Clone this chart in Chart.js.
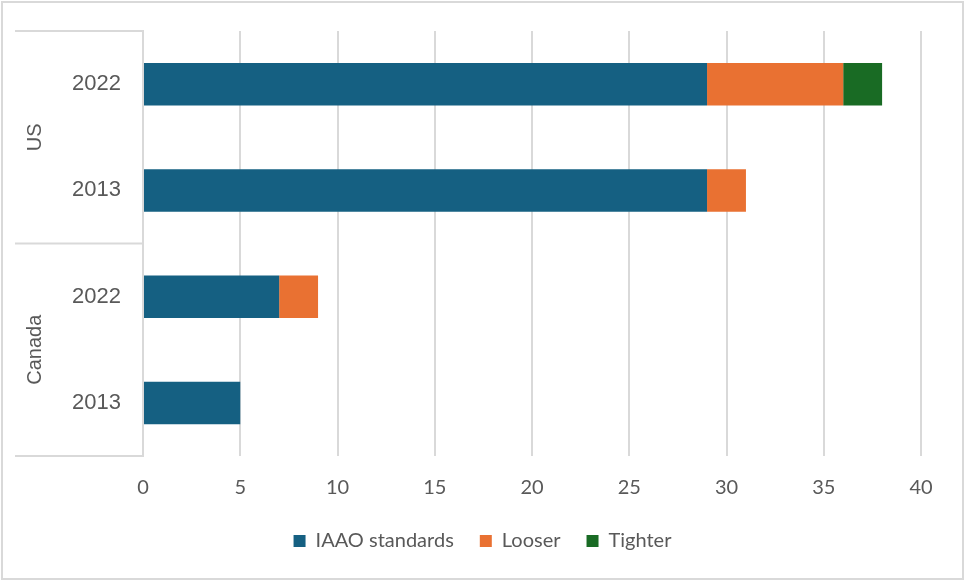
<!DOCTYPE html>
<html>
<head>
<meta charset="utf-8">
<script src="https://cdn.jsdelivr.net/npm/chart.js@4.4.1/dist/chart.umd.min.js"></script>
<style>
  html, body { margin: 0; padding: 0; background: #fff; }
  #wrap { width: 965px; height: 581px; }
</style>
</head>
<body>
<div id="wrap"><canvas id="chart" width="965" height="581"></canvas></div>
<script>
// data
const groups = ['US', 'Canada'];
const years = ['2022', '2013', '2022', '2013'];
const iaao = [29, 29, 7, 5];
const looser = [7, 2, 2, 0];
const tighter = [2, 0, 0, 0];
const xTicks = [0, 5, 10, 15, 20, 25, 30, 35, 40];

const textColor = '#595959';
const lineColor = '#d9d9d9';

// draws the outer frame, the group labels and the separator lines on the left
const groupAxis = {
    id: 'groupAxis',
    beforeDraw(chart) {
        const ctx = chart.ctx;
        ctx.save();
        ctx.fillStyle = '#fff';
        ctx.fillRect(0, 0, chart.width, chart.height);
        ctx.strokeStyle = lineColor;
        ctx.lineWidth = 2;
        ctx.strokeRect(2, 2, chart.width - 4, chart.height - 4);
        ctx.restore();
    },
    afterDraw(chart) {
        const ctx = chart.ctx;
        const y = chart.scales.y;
        const left = 15;
        const right = y.right;
        const mid = (y.getPixelForValue(1) + y.getPixelForValue(2)) / 2;
        ctx.save();
        ctx.strokeStyle = lineColor;
        ctx.lineWidth = 2;
        [y.top, mid, y.bottom].forEach(py => {
            ctx.beginPath();
            ctx.moveTo(left, py);
            ctx.lineTo(right, py);
            ctx.stroke();
        });
        ctx.fillStyle = textColor;
        ctx.font = '20px "Liberation Sans", Arial, sans-serif';
        ctx.textAlign = 'center';
        ctx.textBaseline = 'middle';
        groups.forEach((g, i) => {
            const cy = (y.getPixelForValue(i * 2) + y.getPixelForValue(i * 2 + 1)) / 2;
            ctx.save();
            ctx.translate(35, cy);
            ctx.rotate(-Math.PI / 2);
            ctx.fillText(g, 0, 0);
            ctx.restore();
        });
        ctx.restore();
    }
};

const ctx = document.getElementById('chart').getContext('2d');
new Chart(ctx, {
    type: 'bar',
    data: {
        labels: years,
        datasets: [
            { label: 'IAAO standards', data: iaao, backgroundColor: '#156082' },
            { label: 'Looser', data: looser, backgroundColor: '#E97132' },
            { label: 'Tighter', data: tighter, backgroundColor: '#196B24' }
        ]
    },
    options: {
        indexAxis: 'y',
        responsive: false,
        animation: false,
        categoryPercentage: 1,
        barPercentage: 0.4,
        layout: { padding: { top: 31, right: 44, bottom: 20, left: 44 } },
        plugins: {
            tooltip: { enabled: false },
            legend: {
                position: 'bottom',
                labels: {
                    color: textColor,
                    font: { family: 'Lato', size: 20 },
                    boxWidth: 12,
                    boxHeight: 12,
                    padding: 26
                }
            }
        },
        scales: {
            x: {
                stacked: true,
                min: 0,
                max: 40,
                afterBuildTicks(scale) {
                    scale.ticks = xTicks.map(v => ({ value: v }));
                },
                afterFit(scale) { scale.height = 49; },
                grid: { color: lineColor, lineWidth: 2, drawTicks: false },
                border: { display: false },
                ticks: {
                    color: textColor,
                    font: { family: 'Lato', size: 20 },
                    padding: 20,
                    maxRotation: 0
                }
            },
            y: {
                stacked: true,
                afterFit(scale) {
                    scale.width = 99;
                    scale.paddingTop = 0;
                    scale.paddingBottom = 0;
                },
                grid: { display: false, drawTicks: false },
                border: { display: true, color: lineColor, width: 2 },
                ticks: {
                    color: textColor,
                    font: { family: '"Liberation Sans", Arial, sans-serif', size: 22 },
                    padding: 22
                }
            }
        }
    },
    plugins: [groupAxis]
});
</script>
</body>
</html>
